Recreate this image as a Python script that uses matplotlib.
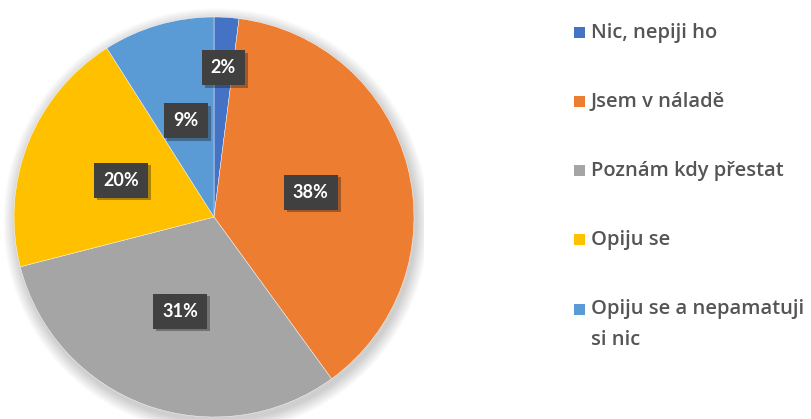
import matplotlib
matplotlib.use("Agg")
import matplotlib.pyplot as plt
import matplotlib.patheffects as pe
from matplotlib.patches import Rectangle, Circle
import numpy as np

categories = ["Nic, nepiji ho", "Jsem v náladě", "Poznám kdy přestat",
              "Opiju se", "Opiju se a nepamatuji\nsi nic"]
values = [2, 38, 31, 20, 9]
colors = ["#4472C4", "#ED7D31", "#A5A5A5", "#FFC000", "#5B9BD5"]

W, H = 812, 419
fig = plt.figure(figsize=(W / 100, H / 100), dpi=100)
fig.patch.set_facecolor("white")

# pie centre and radius in pixels
cx, cy, r = 214, 419 - 217, 200
half = 1.05 * r
ax = fig.add_axes([(cx - half) / W, (cy - half) / H, 2 * half / W, 2 * half / H])

wedges, _ = ax.pie(values, colors=colors, startangle=90, counterclock=False,
                   radius=1.0, wedgeprops=dict(linewidth=0.3, edgecolor="white"))
for w in wedges:
    w.set_zorder(2)
ax.set_xlim(-1.05, 1.05)
ax.set_ylim(-1.05, 1.05)
ax.set_aspect("equal")
ax.axis("off")

# soft drop shadow under the pie
for i in range(16):
    rad = 1.0 + 0.004 * (16 - i)
    ax.add_patch(Circle((0.01, -0.02), rad, color="black", alpha=0.012,
                        lw=0, zorder=0))

# value labels in dark boxes
total = sum(values)
cum = 0
for v in values:
    mid = 90 - 360 * (cum + v / 2) / total
    cum += v
    dist = 0.75 if v < 5 else 0.5
    x, y = dist * np.cos(np.radians(mid)), dist * np.sin(np.radians(mid))
    ax.text(x, y, f"{v}%", ha="center", va="center", color="white",
            fontsize=13, fontweight="bold", family="Lato", zorder=5,
            bbox=dict(boxstyle="square,pad=0.5", facecolor="#404040",
                      edgecolor="none",
                      path_effects=[pe.SimplePatchShadow(offset=(2, -2),
                                                          alpha=0.35),
                                    pe.Normal()]))

# legend
ys = [33, 102, 171, 240, 309]
for lab, col, yy in zip(categories, colors, ys):
    yf = 1 - yy / H
    fig.patches.append(Rectangle((574 / W, yf - 5.5 / H), 11 / W, 11 / H,
                                 transform=fig.transFigure, facecolor=col,
                                 edgecolor="none"))
    lines = lab.split("\n")
    for k, line in enumerate(lines):
        fig.text(591 / W, 1 - (yy + 31 * k) / H, line, ha="left", va="center",
                 fontsize=14.5, color="#555555", family="Open Sans",
                 fontweight="semibold")

fig.savefig("out.png", dpi=100, facecolor="white")
